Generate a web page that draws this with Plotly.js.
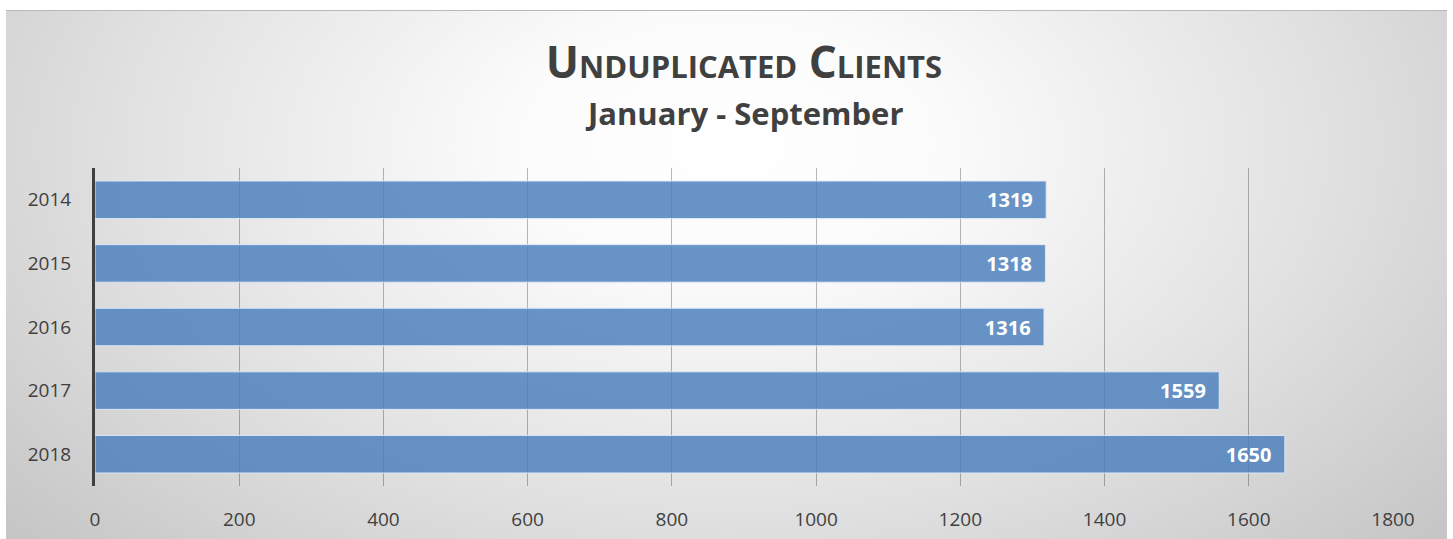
<!DOCTYPE html>
<html>
<head>
<meta charset="utf-8">
<script src="https://cdn.plot.ly/plotly-3.0.1.min.js"></script>
<style>
  html, body { margin: 0; padding: 0; background: #fff; }
  #wrap { position: relative; width: 1453px; height: 539px; overflow: hidden; }
  #panel {
    position: absolute; left: 6px; top: 10px; width: 1441px; height: 540px;
    background: radial-gradient(68% 110% at 50% 25%, #ffffff 0%, #fbfbfb 22%, #e2e2e2 60%, #c4c4c4 100%);
    border-top: 1px solid #b8b8b8;
  }
  #plot { position: absolute; left: 0; top: 0; width: 1453px; height: 539px; }
</style>
</head>
<body>
<div id="wrap">
  <div id="panel"></div>
  <div id="plot"></div>
</div>
<script>
// data
let years = ['2014', '2015', '2016', '2017', '2018'];
let clients = [1319, 1318, 1316, 1559, 1650];
let xTicks = [0, 200, 400, 600, 800, 1000, 1200, 1400, 1600, 1800];

let barTrace = {
    type: 'bar',
    orientation: 'h',
    y: years,
    x: clients,
    text: clients.map(v => v + '\u00a0\u00a0'),
    textposition: 'inside',
    insidetextanchor: 'end',
    constraintext: 'none',
    textfont: { family: 'Open Sans, sans-serif', size: 20, color: '#ffffff', weight: 'bold' },
    marker: {
        color: 'rgba(79,129,189,0.85)',
        line: { color: 'rgba(225,235,248,0.9)', width: 1 }
    },
    hoverinfo: 'x+y'
};

let layout = {
    width: 1453,
    height: 539,
    paper_bgcolor: 'rgba(0,0,0,0)',
    plot_bgcolor: 'rgba(0,0,0,0)',
    margin: { l: 95, r: 60, t: 168, b: 53, pad: 0 },
    showlegend: false,
    bargap: 0.41,
    font: { family: 'Open Sans, sans-serif', color: '#404040' },
    title: {
        text: 'Unduplicated Clients',
        x: 0.5, xref: 'paper', xanchor: 'center',
        y: 0.883, yref: 'container', yanchor: 'middle',
        font: { family: 'Open Sans, sans-serif', size: 44, weight: 'bold', variant: 'small-caps', color: '#404040' }
    },
    annotations: [{
        text: 'January - September',
        xref: 'paper', yref: 'paper',
        x: 0.5, y: 1, yshift: 55,
        xanchor: 'center', yanchor: 'middle',
        showarrow: false,
        font: { family: 'Open Sans, sans-serif', size: 31, weight: 'bold', color: '#404040' }
    }],
    xaxis: {
        range: [0, 1800],
        tickvals: xTicks,
        ticktext: xTicks.map(String),
        showgrid: true,
        gridcolor: 'rgba(0,0,0,0.28)',
        gridwidth: 1,
        zeroline: false,
        showline: false,
        ticks: 'outside',
        ticklen: 16,
        tickcolor: 'rgba(0,0,0,0)',
        tickfont: { size: 19, color: '#404040' },
        fixedrange: true
    },
    yaxis: {
        autorange: 'reversed',
        showgrid: false,
        zeroline: false,
        showline: true,
        linecolor: '#404040',
        linewidth: 3,
        ticks: 'outside',
        ticklen: 17,
        tickcolor: 'rgba(0,0,0,0)',
        tickfont: { size: 19, color: '#404040' },
        fixedrange: true
    }
};

Plotly.newPlot('plot', [barTrace], layout, { displayModeBar: false, staticPlot: true });
</script>
</body>
</html>
